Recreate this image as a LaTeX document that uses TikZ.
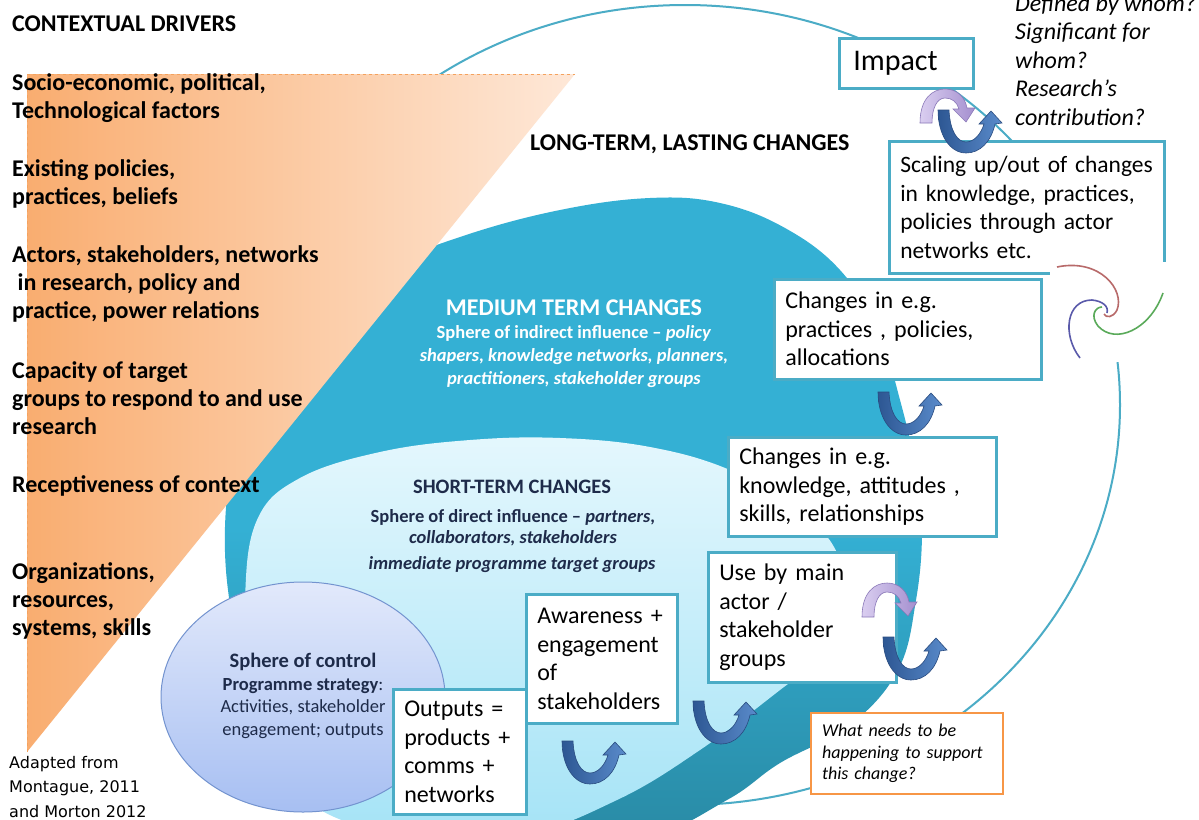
\documentclass[tikz,border=0pt]{standalone}
\usepackage{fontspec}
\setmainfont{Carlito}
\newfontfamily\dejavu{DejaVu Sans}
\definecolor{tealline}{HTML}{4BACC6}
\definecolor{medtop}{HTML}{34B0D4}
\definecolor{medbot}{HTML}{2888A2}
\definecolor{shorttop}{HTML}{E4F7FD}
\definecolor{shortbot}{HTML}{A4E3F6}
\definecolor{ctrltop}{HTML}{E2E9FB}
\definecolor{ctrlbot}{HTML}{A7BFF2}
\definecolor{ctrlline}{HTML}{7393CF}
\definecolor{trileft}{HTML}{F9AD70}
\definecolor{triright}{HTML}{FEE8D8}
\definecolor{tridash}{HTML}{F4A25E}
\definecolor{navy}{HTML}{1E2B4A}
\definecolor{udark}{HTML}{2D5793}
\definecolor{ulight}{HTML}{5A8BCB}
\definecolor{uline}{HTML}{2A4C80}
\definecolor{pdark}{HTML}{A48FCF}
\definecolor{plight}{HTML}{DACEF0}
\definecolor{pline}{HTML}{8A78B8}
\definecolor{qorange}{HTML}{F79646}
\definecolor{swred}{HTML}{B86A6A}
\definecolor{swblue}{HTML}{5A5AAA}
\definecolor{swgreen}{HTML}{5AAA5A}
\newcommand{\oneln}[1]{\mbox{#1}}
\begin{document}
\begin{tikzpicture}[x=1pt,y=-1pt,
  box/.style={draw=tealline, line width=2.5pt, fill=white, anchor=north west,
    align=left, inner xsep=11pt, inner ysep=0pt,
    font=\fontsize{24}{28.5}\selectfont},
  lefttxt/.style={anchor=base west, align=left, inner sep=0pt,
    font=\fontsize{24}{28}\selectfont\bfseries},
  uturn/.pic={
    \shadedraw[left color=udark, right color=ulight, draw=uline, line width=0.6pt]
      (0,0) -- (11,0) .. controls (12,22) and (20,32) .. (28,32)
      .. controls (36,32) and (43,24) .. (46,14) -- (41,14) -- (53,1) -- (64,13)
      -- (57,14) .. controls (53,32) and (42,43) .. (28,43)
      .. controls (12,43) and (0,25) .. (0,0) -- cycle;
  },
  overturn/.pic={
    \shadedraw[left color=plight, right color=pdark, draw=pline, line width=0.6pt]
      (0,0) .. controls (0,-25) and (13,-34) .. (25,-34)
      .. controls (37,-34) and (45,-26) .. (47,-15) -- (55,-15) -- (46,-1)
      -- (33,-14) -- (39,-14) .. controls (37,-21) and (32,-25) .. (25,-25)
      .. controls (17,-25) and (12,-15) .. (12,0) -- cycle;
  }]
\useasboundingbox (0,0) rectangle (1199,819);
\fill[white] (0,0) rectangle (1199,819);

% outer sphere
\draw[tealline, line width=2pt, fill=white] (685,405) ellipse [x radius=435pt, y radius=400pt];

% medium sphere
\shade[top color=medtop, bottom color=medbot, middle color=medtop]
  plot[smooth cycle, tension=0.65] coordinates {
  (463,236) (560,210) (650,198) (720,203) (785,228) (840,270) (878,330)
  (900,400) (916,470) (922,530) (916,600) (898,670) (850,725) (780,763)
  (727,800) (640,840) (500,855) (360,815) (262,720) (228,590) (230,470)
  (255,390) (310,320) (380,270)};

% short sphere
\shade[top color=shorttop, bottom color=shortbot]
  plot[smooth cycle, tension=0.65] coordinates {
  (257,520) (300,478) (380,452) (470,440) (560,438) (650,447) (730,470)
  (800,510) (840,560) (840,620) (810,665) (780,690) (700,750) (617,800)
  (520,835) (400,835) (300,795) (250,700) (245,600)};

% sphere of control
\shadedraw[top color=ctrltop, bottom color=ctrlbot, draw=ctrlline, line width=1pt]
  (303,697) ellipse [x radius=142pt, y radius=115pt];

% contextual triangle
\shade[left color=trileft, right color=triright] (27,74) -- (575,74) -- (27,752) -- cycle;
\draw[tridash, dashed, line width=1pt] (27,752) -- (27,74) -- (575,74);

% left texts (base = last line)
\node[lefttxt] (ctx) at (12,31) {CONTEXTUAL DRIVERS};
\node[lefttxt] (socio) at (12,118) {Socio-economic, political,\\Technological factors};
\node[lefttxt] (exist) at (12,204) {Existing policies,\\practices, beliefs};
\node[lefttxt] (actors) at (12,318) {Actors, stakeholders, networks\\\ in research, policy and\\practice, power relations};
\node[lefttxt] (capac) at (12,434) {Capacity of target\\groups to respond to and use\\research};
\node[lefttxt] (recep) at (12,492) {Receptiveness of context};
\node[lefttxt] (orgs) at (12,635) {Organizations,\\resources,\\systems, skills};
\node[anchor=base west, align=left, inner sep=0pt, font=\dejavu\fontsize{16}{24.5}\selectfont] (adapt) at (9,817) {Adapted from\\Montague, 2011\\and Morton 2012};

% sphere texts
\node[anchor=base west, inner sep=0pt, font=\fontsize{24}{28}\selectfont\bfseries] (long) at (530,150) {LONG-TERM, LASTING CHANGES};
\node[anchor=base, inner sep=0pt, text=white, font=\fontsize{24}{28}\selectfont\bfseries] (medh) at (574,315) {MEDIUM TERM CHANGES};
\node[anchor=base, inner sep=0pt, align=center, text=white, font=\fontsize{18.5}{23}\selectfont\bfseries] (meds) at (574,384)
  {Sphere of indirect influence -- \textit{policy}\\\textit{shapers, knowledge networks, planners,}\\\textit{practitioners, stakeholder groups}};
\node[anchor=base, inner sep=0pt, text=navy, font=\fontsize{20.5}{24}\selectfont\bfseries] (shorth) at (512,493) {SHORT-TERM\ CHANGES};
\node[anchor=base, inner sep=0pt, align=center, text=navy, font=\fontsize{18.5}{21}\selectfont\bfseries] (shorts) at (513,543)
  {Sphere of direct influence -- \textit{partners,}\\\textit{collaborators, stakeholders}};
\node[anchor=base, inner sep=0pt, text=navy, font=\fontsize{18.5}{22}\selectfont\bfseries\itshape] (shortt) at (512,569) {immediate\ programme target groups};
\node[anchor=base, inner sep=0pt, text=navy, font=\fontsize{20.5}{24}\selectfont\bfseries] (ctrlh) at (303,667) {Sphere of control};
\node[anchor=base, inner sep=0pt, align=center, text=navy, font=\fontsize{18.5}{22.5}\selectfont] (ctrls) at (303,735)
  {\textbf{Programme strategy}:\\Activities, stakeholder\\engagement;\ outputs};

% boxes
\node[box, inner xsep=14pt, text width=106pt, minimum height=50pt, font=\fontsize{30}{34}\selectfont] (impact) at (838,37) {Impact};
\node[box, text width=253pt, minimum height=132pt, font=\fontsize{23.5}{28.5}\selectfont] (scale) at (888,140)
  {\oneln{Scaling up/out of changes}\\\oneln{in knowledge, practices,}\\\oneln{policies\ through actor}\\\oneln{networks\ etc.}};
\node[box, text width=245pt, minimum height=100pt] (pract) at (773,278)
  {\oneln{Changes in\ e.g.}\\\oneln{practices , policies,}\\\oneln{allocations}};
\node[box, text width=246pt, minimum height=99pt] (know) at (727,436)
  {\oneln{Changes in\ e.g.}\\\oneln{knowledge, attitudes ,}\\\oneln{skills, relationships}};
\node[box, text width=166pt, minimum height=130pt] (useby) at (707,551)
  {\oneln{Use by main}\\\oneln{actor /}\\\oneln{stakeholder}\\\oneln{groups}};
\node[box, text width=129pt, minimum height=129pt] (aware) at (525,593)
  {\oneln{Awareness +}\\\oneln{engagement}\\of\\\oneln{stakeholders}};
\node[box, text width=111pt, minimum height=125pt] (outputs) at (392,688)
  {\oneln{Outputs =}\\\oneln{products +}\\\oneln{comms +}\\\oneln{networks}};
\node[box, draw=qorange, line width=2pt, text width=170pt, minimum height=81pt, font=\fontsize{18}{21.5}\selectfont\itshape] (needs) at (810,712)
  {\oneln{What needs to be}\\\oneln{happening to support}\\\oneln{this change?}};

% curved arrows
\pic at (562,741) {uturn};
\pic at (693,701) {uturn};
\pic at (862,617) {overturn};
\pic at (883,637) {uturn};
\pic at (878,392) {uturn};
\pic at (920,123) {overturn};
\pic at (938,110) {uturn};

% question text top right
\node[anchor=base west, align=left, inner sep=0pt, font=\fontsize{24}{28.5}\selectfont\itshape] (quest) at (1015,125)
  {Defined by whom?\\Significant for\\whom?\\Research’s\\contribution?};

% swirl
\fill[white] (1050,262) rectangle (1190,362);
\draw[swred, line width=1.6pt] (1057,267) .. controls (1100,258) and (1125,290) .. (1117,310) .. controls (1113,318) and (1106,318) .. (1104,314);
\draw[swblue, line width=1.6pt] (1080,358) .. controls (1062,335) and (1066,300) .. (1092,300) .. controls (1102,301) and (1109,306) .. (1107,313);
\draw[swgreen, line width=1.6pt] (1163,293) .. controls (1150,330) and (1115,345) .. (1098,326) .. controls (1090,316) and (1095,307) .. (1102,307);
\end{tikzpicture}
\end{document}
